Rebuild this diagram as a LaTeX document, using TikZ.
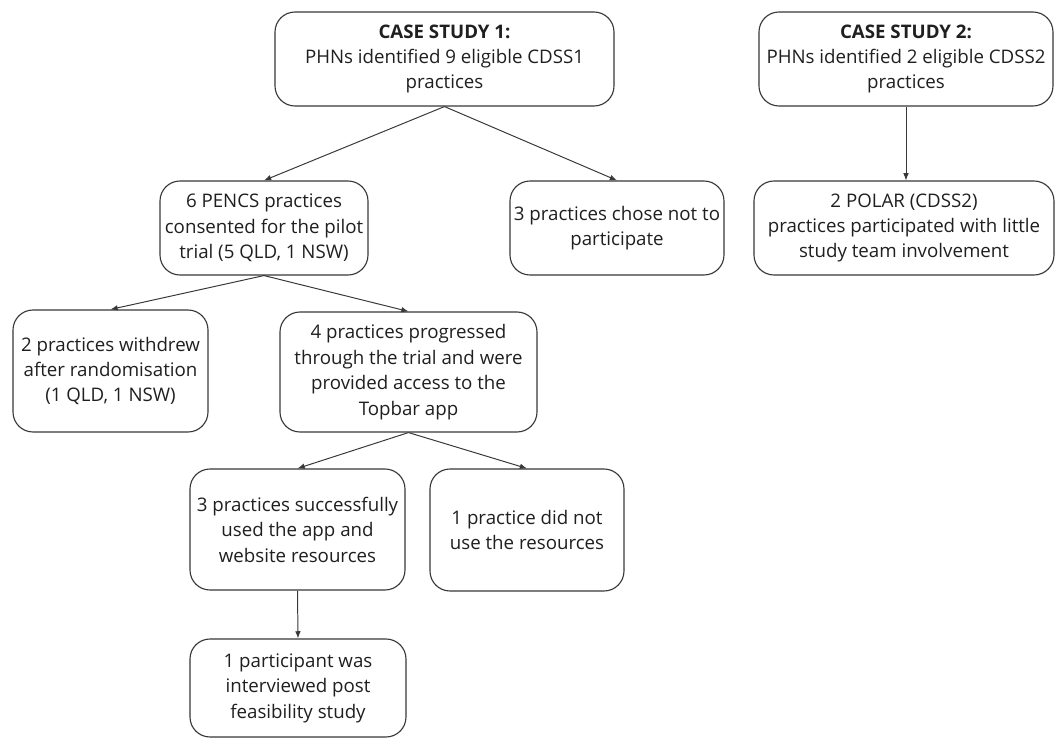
\documentclass[tikz,border=0pt]{standalone}
\usepackage{fontspec}
\setmainfont{Open Sans}
\usepackage{tikz}
\usetikzlibrary{arrows.meta,positioning}
\colorlet{boxline}{black!78}
\newcommand{\px}{0.025cm}

\begin{document}
\begin{tikzpicture}[
x=\px, y=-\px,
MyBoxes/.style={draw=boxline,line width=0.8pt,rounded corners=5mm,align=center,inner sep=0pt,text=black!88,font=\fontsize{13.3pt}{18.1pt}\selectfont},
MyArrows/.style={draw=boxline,line width=0.7pt,-{Latex[length=1.8mm, width=1.4mm]}}
]
\useasboundingbox (0,0) rectangle (1055,738);

% Case study 1
\node[MyBoxes,minimum width=339*\px,minimum height=94*\px] (CaseOne) at (444.5,59)
  {\textbf{CASE STUDY 1:}\\PHNs identified 9 eligible CDSS1\\practices};
\node[MyBoxes,minimum width=208*\px,minimum height=94*\px] (Pencs) at (264,228)
  {6 PENCS practices\\consented for the pilot\\trial (5 QLD, 1 NSW)};
\node[MyBoxes,minimum width=214*\px,minimum height=94*\px] (Declined) at (617,228)
  {3 practices chose not to\\participate};
\node[MyBoxes,minimum width=195*\px,minimum height=122*\px] (Withdrew) at (110.5,371)
  {2 practices withdrew\\after randomisation\\(1 QLD, 1 NSW)};
\node[MyBoxes,minimum width=257*\px,minimum height=120*\px] (Progressed) at (408.5,372)
  {4 practices progressed\\through the trial and were\\provided access to the\\Topbar app};
\node[MyBoxes,minimum width=215*\px,minimum height=121*\px] (UsedApp) at (297.5,529.5)
  {3 practices successfully\\used the app and\\website resources};
\node[MyBoxes,minimum width=194*\px,minimum height=122*\px] (NotUsed) at (527,530)
  {1 practice did not\\use the resources};
\node[MyBoxes,minimum width=216*\px,minimum height=98*\px] (Interview) at (298,688)
  {1 participant was\\interviewed post\\feasibility study};

% Case study 2
\node[MyBoxes,minimum width=294*\px,minimum height=94*\px] (CaseTwo) at (906,59)
  {\textbf{CASE STUDY 2:}\\PHNs identified 2 eligible CDSS2\\practices};
\node[MyBoxes,minimum width=300*\px,minimum height=94*\px] (Polar) at (904,228)
  {2 POLAR (CDSS2)\\practices participated with little\\study team involvement};

\draw[MyArrows] (CaseOne.south) -- (Pencs.north);
\draw[MyArrows] (CaseOne.south) -- (Declined.north);
\draw[MyArrows] (Pencs.south) -- (Withdrew.north);
\draw[MyArrows] (Pencs.south) -- (Progressed.north);
\draw[MyArrows] (Progressed.south) -- (UsedApp.north);
\draw[MyArrows] (Progressed.south) -- (NotUsed.north);
\draw[MyArrows] (UsedApp.south) -- (Interview.north);
\draw[MyArrows] (CaseTwo.south) -- (CaseTwo.south |- Polar.north);

\end{tikzpicture}
\end{document}
